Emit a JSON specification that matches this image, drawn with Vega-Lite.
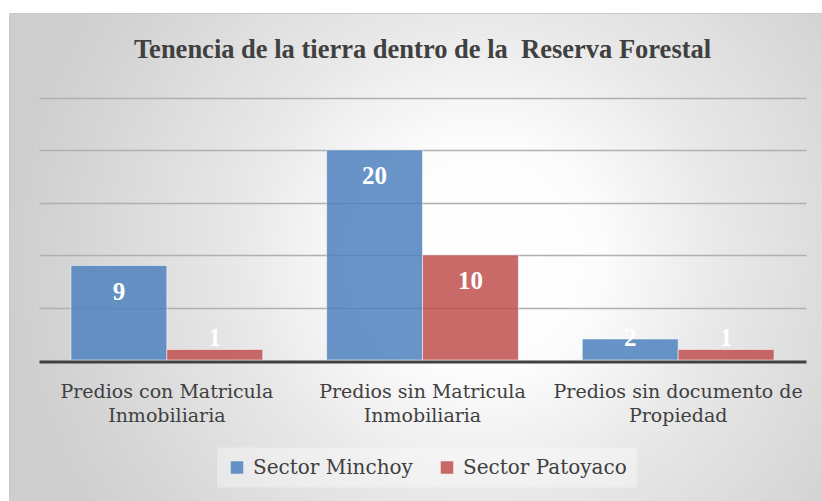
{
  "$schema": "https://vega.github.io/schema/vega-lite/v6.json",
  "width": 813,
  "height": 488,
  "autosize": {"type": "none"},
  "padding": {"left": 9, "top": 13, "right": 0, "bottom": 0},
  "background": "white",
  "title": {
    "text": "Tenencia de la tierra dentro de la\u00a0 Reserva Forestal",
    "font": "Liberation Serif",
    "fontSize": 26.5,
    "fontWeight": "bold",
    "color": "#404040",
    "anchor": "middle",
    "offset": -50,
    "dx": 7
  },
  "config": {
    "view": {
      "fill": {
        "gradient": "radial",
        "x1": 0.58, "y1": 0.5, "r1": 0,
        "x2": 0.58, "y2": 0.5, "r2": 0.58,
        "stops": [
          {"offset": 0, "color": "#ffffff"},
          {"offset": 0.25, "color": "#fcfcfc"},
          {"offset": 0.5, "color": "#e9e9e9"},
          {"offset": 0.75, "color": "#dbdbdb"},
          {"offset": 0.9, "color": "#d3d3d3"},
          {"offset": 1, "color": "#cecece"}
        ]
      },
      "stroke": "#c8c8c8"
    }
  },
  "data": {
    "values": [
      {"categoria": "Predios con Matricula Inmobiliaria", "serie": "Sector Minchoy", "valor": 9},
      {"categoria": "Predios con Matricula Inmobiliaria", "serie": "Sector Patoyaco", "valor": 1},
      {"categoria": "Predios sin Matricula Inmobiliaria", "serie": "Sector Minchoy", "valor": 20},
      {"categoria": "Predios sin Matricula Inmobiliaria", "serie": "Sector Patoyaco", "valor": 10},
      {"categoria": "Predios sin documento de Propiedad", "serie": "Sector Minchoy", "valor": 2},
      {"categoria": "Predios sin documento de Propiedad", "serie": "Sector Patoyaco", "valor": 1}
    ]
  },
  "encoding": {
    "x": {
      "field": "categoria",
      "type": "nominal",
      "sort": null,
      "scale": {"range": [30, 797], "paddingInner": 0.25, "paddingOuter": 0.125},
      "axis": {
        "title": null,
        "orient": "bottom",
        "offset": -139.5,
        "zindex": 1,
        "domainColor": "#404040",
        "domainWidth": 3,
        "ticks": false,
        "tickSize": 0,
        "labelPadding": 21,
        "labelAngle": 0,
        "labelFont": "DejaVu Serif",
        "labelFontSize": 19,
        "labelColor": "#404040",
        "labelLineHeight": 24,
        "labelLimit": 400,
        "labelOverlap": false,
        "labelExpr": "[slice(datum.label, 0, lastindexof(datum.label, ' ')), slice(datum.label, lastindexof(datum.label, ' ') + 1)]"
      }
    },
    "xOffset": {"field": "serie", "scale": {"paddingInner": 0, "paddingOuter": 0}},
    "y": {
      "field": "valor",
      "type": "quantitative",
      "scale": {"domain": [0, 25], "range": [347, 84.5], "nice": false, "zero": true},
      "axis": {
        "title": null,
        "labels": false,
        "ticks": false,
        "domain": false,
        "grid": true,
        "values": [5, 10, 15, 20, 25],
        "gridColor": "#b0b0b0",
        "gridWidth": 1.3
      }
    }
  },
  "layer": [
    {
      "mark": {"type": "bar", "fillOpacity": 0.85, "stroke": "white", "strokeOpacity": 0.5, "strokeWidth": 1},
      "encoding": {
        "color": {
          "field": "serie",
          "type": "nominal",
          "scale": {"domain": ["Sector Minchoy", "Sector Patoyaco"], "range": ["#4f81bd", "#c0504d"]},
          "legend": {
            "orient": "none",
            "legendX": 208,
            "legendY": 434.5,
            "direction": "horizontal",
            "title": null,
            "symbolType": "square",
            "symbolSize": 156,
            "symbolOpacity": 0.85,
            "symbolStrokeWidth": 0,
            "labelFont": "DejaVu Serif",
            "labelFontSize": 20,
            "labelColor": "#404040",
            "labelOffset": 6,
            "labelLimit": 300,
            "columnPadding": 24,
            "fillColor": "rgba(255,255,255,0.35)",
            "padding": 10
          }
        }
      }
    },
    {
      "transform": [{"filter": "datum.valor >= 5"}],
      "mark": {"type": "text", "font": "Liberation Serif", "fontWeight": "bold", "fontSize": 25, "color": "white", "baseline": "middle", "dy": 26},
      "encoding": {"text": {"field": "valor", "type": "quantitative"}}
    },
    {
      "transform": [{"filter": "datum.valor < 5"}],
      "mark": {"type": "text", "font": "Liberation Serif", "fontWeight": "bold", "fontSize": 25, "color": "white", "baseline": "middle"},
      "encoding": {
        "y": {"datum": 2.14, "type": "quantitative"},
        "text": {"field": "valor", "type": "quantitative"}
      }
    }
  ]
}
